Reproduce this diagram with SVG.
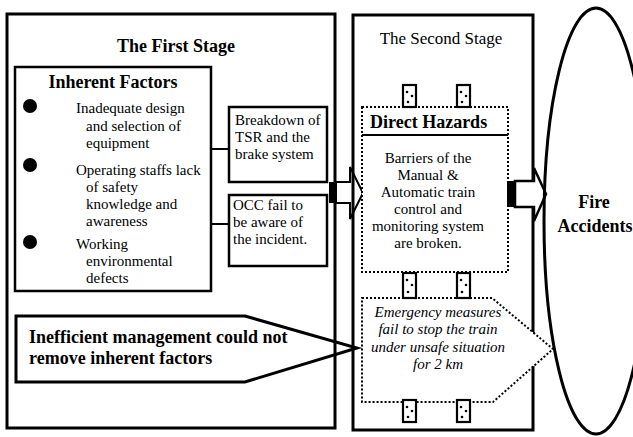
<svg xmlns="http://www.w3.org/2000/svg" width="633" height="437" viewBox="0 0 633 437">
  <style>
    text { font-family: "Liberation Serif", "Times New Roman", serif; fill: #000; }
    .b { font-weight: bold; }
    .t15 { font-size: 15px; }
    .t17 { font-size: 17px; }
    .t18 { font-size: 18px; }
    .it { font-style: italic; }
    .mid { text-anchor: middle; }
    .frame { fill: none; stroke: #000; stroke-width: 3; }
    .box { fill: #fff; stroke: #000; stroke-width: 2.5; }
    .dot { fill: #fff; stroke: #000; stroke-width: 2; stroke-dasharray: 2 2; }
    .line { fill: none; stroke: #000; stroke-width: 2; }
    .pillar { fill: #fff; stroke: #000; stroke-width: 2.2; }
  </style>
  <defs>
    <!-- small speckled pillar joining the layers of the second stage -->
    <g id="pillar">
      <rect class="pillar" x="0" y="0" width="13" height="22"/>
      <circle cx="4" cy="7" r="1.3"/>
      <circle cx="9" cy="11" r="1.3"/>
      <circle cx="5" cy="17" r="1.3"/>
    </g>
    <g id="pillar-tall">
      <rect class="pillar" x="0" y="0" width="13" height="25"/>
      <circle cx="4" cy="7" r="1.3"/>
      <circle cx="9" cy="12" r="1.3"/>
      <circle cx="5" cy="19" r="1.3"/>
    </g>
  </defs>

  <rect width="633" height="437" fill="#fff"/>

  <!-- first stage frame -->
  <g id="first-stage">
    <rect class="frame" x="7" y="14" width="328" height="414"/>
    <text class="b t18 mid" x="176" y="52">The First Stage</text>
  </g>

  <!-- inherent factors -->
  <g id="inherent-factors">
    <rect class="box" x="15" y="67" width="196" height="224"/>
    <text class="b t18 mid" x="113" y="88">Inherent Factors</text>
    <circle cx="30" cy="106" r="7"/>
    <circle cx="30" cy="165" r="7"/>
    <circle cx="30" cy="242" r="7"/>
    <g class="t15">
      <text x="76" y="113">Inadequate design</text>
      <text x="86" y="131">and selection of</text>
      <text x="86" y="148">equipment</text>
      <text x="76" y="175">Operating staffs lack</text>
      <text x="86" y="192">of safety</text>
      <text x="86" y="209">knowledge and</text>
      <text x="86" y="226">awareness</text>
      <text x="76" y="249">Working</text>
      <text x="86" y="266">environmental</text>
      <text x="86" y="283">defects</text>
    </g>
  </g>

  <g id="breakdown">
    <rect class="box" x="229" y="107" width="98" height="75"/>
    <g class="t15">
      <text x="235" y="125">Breakdown of</text>
      <text x="235" y="142">TSR and the</text>
      <text x="235" y="159">brake system</text>
    </g>
  </g>

  <g id="occ">
    <rect class="box" x="229" y="195" width="98" height="71"/>
    <g class="t15">
      <text x="233" y="210">OCC fail to</text>
      <text x="233" y="227">be aware of</text>
      <text x="233" y="244">the incident.</text>
    </g>
  </g>

  <g id="management">
    <polygon class="frame" points="16,316 245,316 357,348 245,382 16,382"/>
    <text class="b t18" x="29" y="343">Inefficient management could not</text>
    <text class="b t18" x="29" y="364">remove inherent factors</text>
  </g>

  <!-- connectors between the stages -->
  <g id="connectors">
    <line class="line" x1="211" y1="149" x2="229" y2="149"/>
    <line class="line" x1="211" y1="224" x2="229" y2="224"/>
    <rect x="329" y="182" width="7" height="21"/>
    <polygon class="line" stroke-width="2.5" points="336,182 350,182 350,167 363,193 350,219 350,203 336,203"/>
  </g>

  <!-- second stage frame -->
  <g id="second-stage">
    <rect class="frame" x="353" y="15" width="180" height="415"/>
    <text class="t17 mid" x="441" y="44">The Second Stage</text>
  </g>

  <g id="direct-hazards">
    <rect class="dot" x="362" y="107" width="146" height="165"/>
    <line class="line" x1="362" y1="135" x2="508" y2="135"/>
    <text class="b t18" x="370" y="128">Direct Hazards</text>
    <g class="t15 mid">
      <text x="428" y="163">Barriers of the</text>
      <text x="428" y="180">Manual &amp;</text>
      <text x="428" y="197">Automatic train</text>
      <text x="428" y="214">control and</text>
      <text x="428" y="231">monitoring system</text>
      <text x="428" y="248">are broken.</text>
    </g>
  </g>

  <g id="emergency">
    <polygon class="dot" points="362,298 492,298 553,349 493,402 362,402"/>
    <g class="t15 it mid">
      <text x="438" y="317">Emergency measures</text>
      <text x="438" y="334">fail to stop the train</text>
      <text x="438" y="352">under unsafe situation</text>
      <text x="438" y="369">for 2 km</text>
    </g>
  </g>

  <g id="pillars">
    <use href="#pillar" x="403" y="85"/>
    <use href="#pillar" x="457" y="85"/>
    <use href="#pillar-tall" x="403" y="273"/>
    <use href="#pillar-tall" x="457" y="273"/>
    <use href="#pillar" x="403" y="400"/>
    <use href="#pillar" x="457" y="400"/>
  </g>

  <g id="connector-out">
    <rect x="507" y="181" width="8" height="26"/>
    <polygon class="box" stroke-width="2.5" points="515,181 534,181 534,168 546,194 534,221 534,207 515,207"/>
  </g>

  <g id="fire-accidents">
    <ellipse class="frame" cx="596" cy="221" rx="52" ry="213"/>
    <text class="b t18 mid" x="594" y="208">Fire</text>
    <text class="b t18 mid" x="595" y="232">Accidents</text>
  </g>
</svg>
